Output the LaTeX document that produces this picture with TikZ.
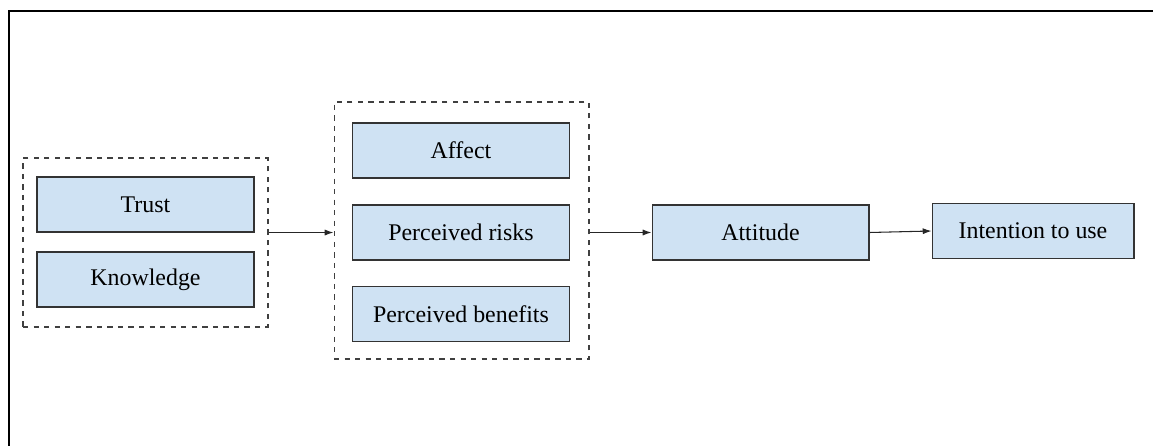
\documentclass[tikz,border=0pt]{standalone}
\usepackage{fontspec}
\setmainfont{Liberation Serif}
\usetikzlibrary{arrows.meta}
\definecolor{boxblue}{HTML}{CFE2F3}
\tikzset{
  factor/.style={draw=black!80,fill=boxblue,line width=0.6pt,minimum width=4.34cm,
    minimum height=1.1cm,inner sep=0pt,font=\rmfamily\fontsize{13.6}{16}\selectfont},
  group/.style={draw=black!75,dashed,line width=0.6pt,inner sep=0pt},
  arr/.style={-{Latex[length=5pt,width=3.5pt]},line width=0.6pt,black!85}
}
\begin{document}
\begin{tikzpicture}[x=0.02cm,y=-0.02cm]
    \useasboundingbox (0,0) rectangle (1153,446);
    \draw[line width=1.2pt] (9,460) -- (9,11) -- (1165,11);
    % groups
    \node[group,minimum width=4.9cm,minimum height=3.38cm] (left) at (145.5,242.5) {};
    \node[group,minimum width=5.1cm,minimum height=5.14cm] (mid) at (461.5,230.5) {};
    % factors
    \node[factor] (trust) at (145.5,204.5) {Trust};
    \node[factor] (know) at (145.5,279.5) {Knowledge};
    \node[factor] (affect) at (461,150.5) {Affect};
    \node[factor] (risks) at (461,232.5) {Perceived risks};
    \node[factor] (benefits) at (461,314) {Perceived benefits};
    \node[factor] (attitude) at (760.5,232.5) {Attitude};
    \node[factor,minimum width=4.04cm] (intent) at (1033,231) {Intention to use};
    % arrows
    \draw[arr] (trust.south -| left.east) -- (trust.south -| mid.west);
    \draw[arr] (risks.east -| mid.east) -- (attitude.west);
    \draw[arr] (attitude.east) -- (intent.west);
\end{tikzpicture}
\end{document}
